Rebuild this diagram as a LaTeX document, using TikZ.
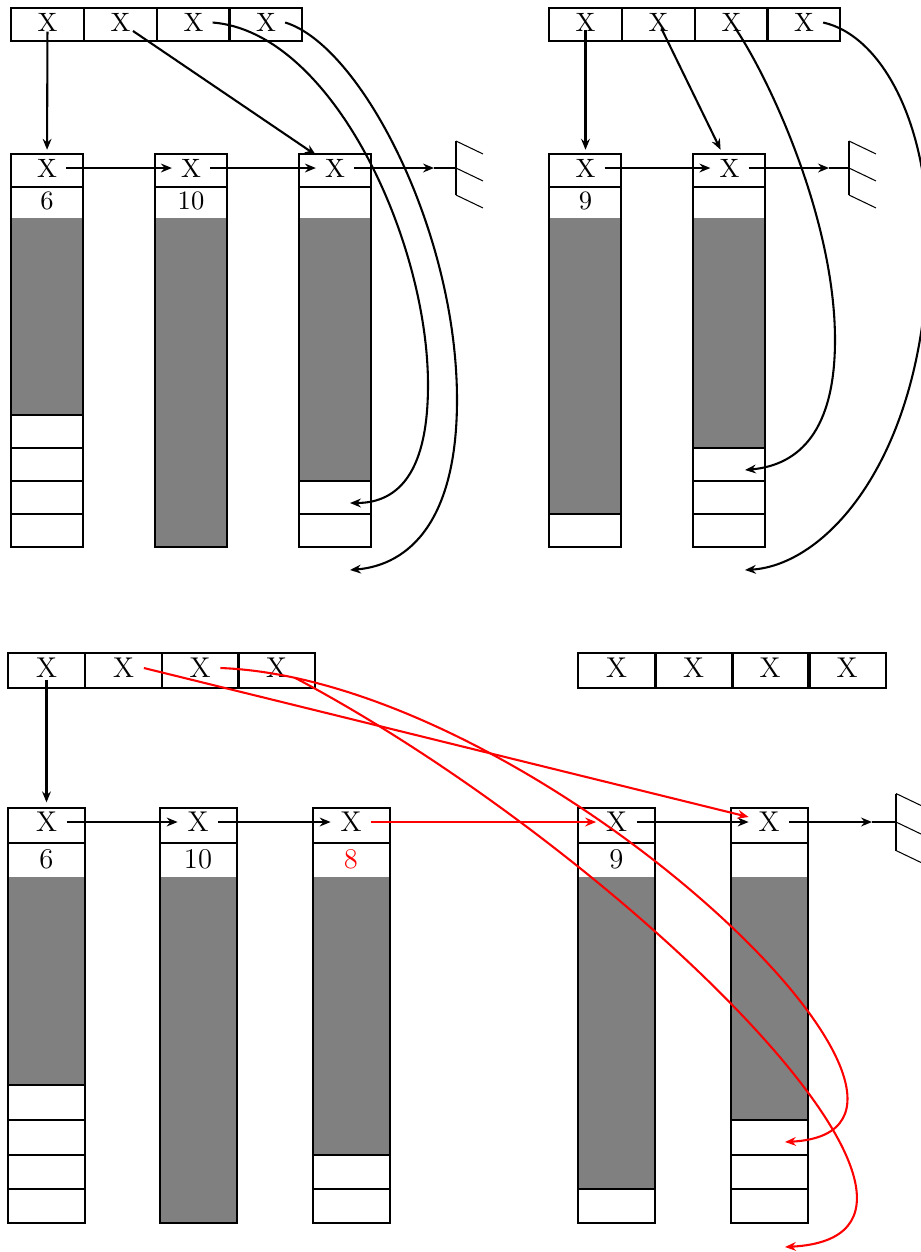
\documentclass[tikz,border=0pt]{standalone}
\usepackage{tikz}
\usetikzlibrary{arrows.meta}

\begin{document}
\begin{tikzpicture}[
  x=0.3846pt, y=-0.3846pt,
  >={Stealth[length=4.2pt, width=3.4pt, inset=1.4pt]},
  xlbl/.style={font=\fontsize{10.2}{12}\selectfont},
  xlblb/.style={font=\fontsize{11}{13}\selectfont, inner sep=3.6pt},
  ptr/.style={->, thick},
  rptr/.style={->, thick, red},
  gnd/.style={thin}
]
  \clip (0,0) rectangle (921,1252);

  % ---------- top left ----------
  % pointer array
  \foreach \x in {11,84,157,229}{
    \draw[thick] (\x,8) rectangle ++(73,33);
  }
  % top right pointer array
  \foreach \x in {549,622,695,767}{
    \draw[thick] (\x,8) rectangle ++(73,33);
  }
  % columns: gray part, outline, header line
  \foreach \x/\g in {11/415, 155/547, 299/481, 549/514, 693/448}{
    \fill[gray] (\x,218) rectangle (\x+72,\g);
    \draw[thick] (\x,154) rectangle (\x+72,547);
    \draw[thick] (\x,187) -- (\x+72,187);
  }
  % free cells
  \foreach \x/\y in {11/415, 11/448, 11/481, 11/514, 299/481, 299/514,
                     549/514, 693/448, 693/481, 693/514}{
    \draw[thick] (\x,\y) -- ++(72,0);
  }

  % labels
  \foreach \i/\x in {1/47.5, 2/120.5, 3/193.5, 4/266}{
    \node[xlbl] (a\i) at (\x,22.5) {X};
  }
  \foreach \i/\x in {1/585.5, 2/658.5, 3/731.5, 4/804}{
    \node[xlbl] (b\i) at (\x,22.5) {X};
  }
  \foreach \i/\x in {1/47, 2/191, 3/335}{
    \node[xlbl] (h\i) at (\x,168) {X};
  }
  \foreach \i/\x in {1/585.5, 2/729.5}{
    \node[xlbl] (k\i) at (\x,168) {X};
  }
  \node[xlbl] (n6) at (47,201) {6};
  \node[xlbl] (n10) at (191,201) {10};
  \node[xlbl] (n9) at (585.5,201) {9};

  % ground ends
  \coordinate (e1) at (434,168);
  \coordinate (g1) at (456,168);
  \coordinate (e2) at (829,168);
  \coordinate (g2) at (849,168);
  \coordinate (e3) at (872,822);
  \coordinate (g3) at (896,822);
  \foreach \gx/\gy/\s in {456/168/27, 849/168/27, 896/822/28.5}{
    \draw[gnd] (\gx,\gy-\s) -- (\gx,\gy+\s);
    \foreach \d in {-1,0,1}{
      \draw[gnd] (\gx,\gy+\d*\s) -- ++(\s,\s*0.48);
    }
  }

  % targets of the curved pointers
  \coordinate (s1) at (350,503);
  \coordinate (s2) at (350,570);
  \coordinate (s3) at (745,470);
  \coordinate (s4) at (745,570);

  % pointers, left
  \draw[ptr, shorten <=3.5pt] (a1.center) -- (h1);
  \draw[ptr, shorten <=5.8pt] (a2.center) -- (h3);
  \draw[ptr] (h1) -- (h2);
  \draw[ptr] (h2) -- (h3);
  \draw[ptr] (h3) -- (e1);
  \draw[gnd] (e1) -- (g1);
  \draw[ptr] (a3.east) .. controls (332,32) and (428,240) .. (428,385)
    .. controls (428,470) and (400,503) .. (s1);
  \draw[ptr] (a4.east) .. controls (360,45) and (457,230) .. (457,400)
    .. controls (457,520) and (410,565) .. (s2);

  % pointers, right
  \draw[ptr, shorten <=3pt] (b1.center) -- (k1);
  \draw[ptr, shorten <=2.5pt] (b2.center) -- (k2);
  \draw[ptr] (k1) -- (k2);
  \draw[ptr] (k2) -- (e2);
  \draw[gnd] (e2) -- (g2);
  \draw[ptr, shorten <=3pt] (b3.center) .. controls (770,80) and (835,220) .. (835,340)
    .. controls (835,430) and (800,465) .. (s3);
  \draw[ptr] (b4.east) .. controls (880,35) and (928,120) .. (928,240)
    .. controls (928,450) and (830,565) .. (s4);

  % ---------- bottom ----------
  \begin{scope}[line width=0.9pt]
    \foreach \x in {8,85,162,238}{
      \draw (\x,653) rectangle ++(77,35);
    }
    \foreach \x in {578,655,732,808}{
      \draw (\x,653) rectangle ++(78,35);
    }
    \foreach \x/\g in {8/1085, 160/1223, 313/1155, 578/1189, 731/1120}{
      \fill[gray] (\x,877) rectangle (\x+77,\g);
      \draw (\x,808) rectangle (\x+77,1223);
      \draw (\x,843) -- (\x+77,843);
    }
    \foreach \x/\y in {8/1085, 8/1120, 8/1155, 8/1189, 313/1155, 313/1189,
                       578/1189, 731/1120, 731/1155, 731/1189}{
      \draw (\x,\y) -- ++(77,0);
    }
  \end{scope}

  \foreach \i/\x in {1/46.5, 2/123.5, 3/200, 4/276.5}{
    \node[xlbl, xlblb] (p\i) at (\x,668) {X};
  }
  \foreach \i/\x in {1/616.5, 2/693.5, 3/770, 4/847}{
    \node[xlbl, xlblb] (r\i) at (\x,668) {X};
  }
  \foreach \i/\x in {1/46.5, 2/198, 3/351, 4/616.5, 5/769}{
    \node[xlbl, xlblb] (m\i) at (\x,822) {X};
  }
  \node[xlbl, xlblb] (q6) at (46.5,859) {6};
  \node[xlbl, xlblb] (q10) at (198,859) {10};
  \node[xlbl, xlblb, red] (q8) at (351,859) {8};
  \node[xlbl, xlblb] (q9) at (616.5,859) {9};

  \coordinate (s5) at (785,1142);
  \coordinate (s6) at (785,1247);

  \draw[ptr, shorten <=4.6pt] (p1.center) -- (m1);
  \draw[ptr] (m1) -- (m2);
  \draw[ptr] (m2) -- (m3);
  \draw[rptr] (m3) -- (m4);
  \draw[ptr] (m4) -- (m5);
  \draw[ptr] (m5) -- (e3);
  \draw[gnd] (e3) -- (g3);
  \draw[rptr] (p2.east) -- (m5);
  \draw[rptr] (p3.east) .. controls (540,680) and (1010,1130) .. (s5);
  \draw[rptr, shorten <=8pt] (p4.center) .. controls (620,850) and (1015,1235) .. (s6);
\end{tikzpicture}
\end{document}
